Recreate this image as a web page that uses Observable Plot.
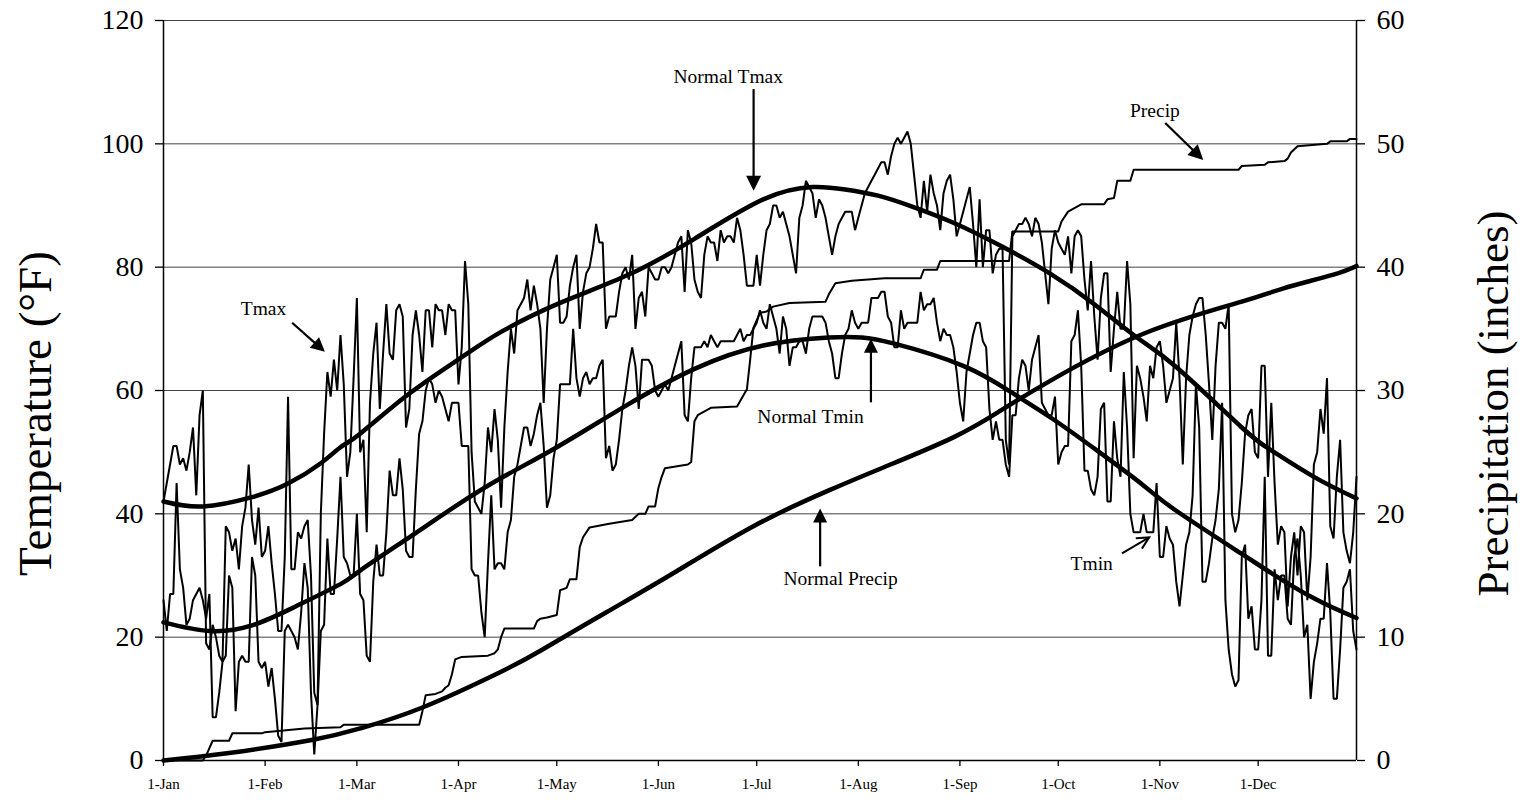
<!DOCTYPE html>
<html><head><meta charset="utf-8">
<script src="https://cdn.jsdelivr.net/npm/d3@7"></script>
<script src="https://cdn.jsdelivr.net/npm/@observablehq/plot@0.6"></script>
<style>html,body{margin:0;padding:0;background:#fff;overflow:hidden}</style>
</head><body><div id="chart"></div>
<script>
// ---------- data ----------
const monthStarts = [0,31,59,90,120,151,181,212,243,273,304,334];
const monthLabels = ["1-Jan","1-Feb","1-Mar","1-Apr","1-May","1-Jun","1-Jul","1-Aug","1-Sep","1-Oct","1-Nov","1-Dec"];
const tempTicks = [0,20,40,60,80,100,120];
const precipTicks = [0,10,20,30,40,50,60];

// daily maximum temperature (°F), 1-Jan .. 31-Dec
const tmax = [
42,45,48,51,51,48,49,47,50,54, 43,56,60,19,18,22,20,17,16,38,
37,34,36,31,38,41,48,39,35,41, 33,34,38,32,27,21,21,33,59,31,
31,37,36,38,39,30,11,9,40,53, 63,59,65,60,69,61,46,50,62,75,
50,52,37,58,66,71,57,66,74,66, 65,73,74,72,54,57,69,73,69,63,
73,73,67,74,73,73,69,74,73,73, 61,67,81,74,50,42,41,40,45,54,
50,57,52,41,54,63,70,66,73,74, 75,78,73,77,74,70,58,70,78,80,
82,71,71,72,77,80,82,70,76,79, 80,83,87,84,84,70,72,72,72,76,
79,80,78,82,70,75,76,72,80,79, 78,78,80,80,79,80,82,84,85,76,
86,84,78,76,75,82,85,84,84,81, 86,84,85,85,84,88,86,82,77,77,
77,82,77,82,86,87,90,90,88,89, 87,85,82,79,88,90,94,93,92,88,
91,90,88,85,82,85,87,88,89,89, 89,86,88,90,92,93,94,95,96,97,
97,95,98,100,101,100,101,102,100,95, 90,88,94,89,95,92,90,86,92,94,
95,91,85,87,89,91,93,87,80,91, 80,86,86,79,82,83,83,52,48,85,
86,87,87,88,87,85,88,87,84,79, 74,83,86,84,83,82,85,79,85,86,
85,78,73,81,72,65,75,79,79,63, 70,76,70,70,81,74,49,64,62,59,
55,64,62,67,68,64,58,60,62,71, 62,48,62,69,72,74,75,75,69,61,
52,64,71,71,70,74,40,37,39,45, 53,56,57,50,49,64,64,46,58,45,
35,38,37,25,33,37,30,38,37,26, 33,48,50,57,53,62,38,36,46,52,
37,34,32,37,46];

// daily minimum temperature (°F)
const tmin = [
26,21,27,27,45,31,28,22,23,26, 27,28,26,23,27,7,7,11,16,17,
30,28,8,16,17,16,16,33,30,16, 15,16,12,15,10,4,3,21,22,21,
20,18,24,32,28,11,1,9,21,22, 36,27,27,36,46,33,32,30,30,40,
27,26,17,16,29,35,30,30,37,47, 43,43,49,44,34,33,33,44,53,55,
60,62,61,58,60,59,57,55,58,58, 58,51,51,51,31,30,30,24,20,32,
43,31,32,32,31,37,39,46,48,51, 54,54,51,53,56,58,51,41,43,49,
52,61,61,61,61,70,62,59,62,63, 61,62,62,64,65,49,51,47,48,52,
57,60,64,67,64,57,65,65,65,64, 60,59,60,61,60,62,64,66,68,56,
55,62,67,67,67,68,67,69,68,67, 68,68,68,68,68,69,70,68,69,69,
70,71,73,71,70,74,72,70,66,72, 70,64,67,67,68,68,66,70,72,72,
72,72,71,68,66,62,62,66,69,70, 73,71,70,71,71,71,75,75,75,76,
76,72,71,67,67,73,70,71,71,71, 71,76,73,74,74,75,71,68,70,69,
69,67,63,58,55,63,66,69,71,71, 68,67,57,52,55,52,52,48,46,56,
56,62,65,64,60,65,67,69,58,57, 56,56,59,48,50,51,51,68,69,73,
64,47,47,44,43,46,57,58,42,42, 55,49,46,63,54,40,37,37,37,40,
37,37,37,45,33,33,38,36,35,29, 25,30,35,37,43,61,54,29,29,32,
36,39,44,58,26,18,14,12,13,33, 35,23,25,18,18,26,46,17,17,31,
26,30,30,23,22,33,36,30,20,22, 10,16,19,23,23,32,24,10,10,18,
28,29,31,21,18];

// normal max / min temperature, read at [day, °F]
const normalTmax = [[0,42],[12,41.2],[27,42.7],[38,44.9],[48,48.2],[54,50.8],[60,53],[75,59.5],[91,65.4],[103,69.5],[121,74.2],[142,78.8],[162,84.6],[183,91],[198,93],[208,92.6],[218,91.6],[228,89.9],[241,87.2],[256,83.3],[271,78.8],[284,74],[297,68.6],[309,63.8],[329,54],[338,50.3],[351,46],[364,42.5]];
const normalTmin = [[0,22.4],[14,21],[27,21.9],[40,24.9],[54,28.6],[60,30.8],[75,36.2],[89,41.2],[103,45.8],[120,50.8],[141,57.5],[162,63.5],[183,67.3],[203,68.6],[213,68.6],[223,67.6],[244,64],[259,59.6],[271,55.5],[285,50.2],[299,44.6],[309,40.5],[329,33.5],[338,30.4],[351,26.3],[364,23.1]];

// cumulative precipitation (inches), change points [day, inches]
const precip = [[0,0],[12,0],[13,0.4],[14,1.0],[15,1.6],[20,1.6],[21,2.2],[30,2.2],[31,2.3],[35,2.4],[43,2.6],[54,2.7],[55,2.9],[78,2.9],[79,4.0],[80,5.3],[83,5.4],[85,5.6],[86,5.9],[87,6.1],[88,7.0],[89,8.2],[91,8.4],[99,8.5],[101,8.7],[102,9.0],[103,10.0],[104,10.7],[113,10.7],[114,11.3],[115,11.5],[117,11.6],[120,11.8],[121,13.8],[123,14.0],[124,14.7],[126,14.7],[127,17.3],[128,18.1],[130,18.9],[136,19.2],[143,19.5],[145,20.0],[147,20.0],[148,20.6],[150,20.6],[151,22.1],[152,23.0],[153,23.7],[160,24.0],[161,24.2],[162,27.5],[163,28.0],[167,28.6],[175,28.7],[178,30.1],[179,32.5],[180,35.1],[182,36.3],[184,36.4],[186,36.8],[191,37.1],[202,37.2],[203,37.8],[205,38.7],[210,38.9],[220,39.1],[231,39.1],[232,39.8],[236,39.8],[237,40.5],[258,40.5],[259,42.9],[273,42.9],[274,43.7],[276,44.5],[280,45.1],[287,45.1],[288,45.5],[290,45.6],[291,47.0],[295,47.0],[296,47.9],[328,47.9],[329,48.2],[336,48.3],[337,48.5],[342,48.6],[343,48.8],[344,49.3],[346,49.8],[355,50.0],[356,50.2],[361,50.2],[362,50.4],[364,50.4]];

// normal cumulative precipitation (inches)
const normalPrecip = [[0,0],[20,0.6],[46,1.7],[60,2.6],[79,4.3],[103,7.2],[115,8.9],[135,12],[155,15.1],[180,19],[203,21.9],[220,23.8],[241,26.2],[255,28.3],[270,30.7],[299,34.6],[329,37.2],[342,38.3],[357,39.4],[364,40.1]];

// ---------- chart ----------
const P2T = 120 / 60; // right axis (inches) onto left axis (°F)
const days = tmax.map((_, i) => i);
const serif = "'Liberation Serif','Times New Roman',serif";

function arrows(specs) {
  return (index, scales) => {
    const g = d3.create("svg:g");
    for (const a of specs) {
      const x1 = scales.x(a.x1), y1 = scales.y(a.y1), x2 = scales.x(a.x2), y2 = scales.y(a.y2);
      const len = Math.hypot(x2 - x1, y2 - y1), ux = (x2 - x1) / len, uy = (y2 - y1) / len;
      const L = a.head, w = a.head / 2;
      const bx = x2 - ux * L, by = y2 - uy * L, nx = -uy, ny = ux;
      if (a.open) {
        g.append("line").attr("x1", x1).attr("y1", y1).attr("x2", x2).attr("y2", y2)
          .attr("stroke", "black").attr("stroke-width", 2);
        g.append("path").attr("d", `M${bx + nx * w},${by + ny * w}L${x2},${y2}L${bx - nx * w},${by - ny * w}`)
          .attr("fill", "none").attr("stroke", "black").attr("stroke-width", 2);
      } else {
        g.append("line").attr("x1", x1).attr("y1", y1).attr("x2", bx + ux * 2).attr("y2", by + uy * 2)
          .attr("stroke", "black").attr("stroke-width", 2.2);
        g.append("path").attr("d", `M${x2},${y2}L${bx + nx * w},${by + ny * w}L${bx - nx * w},${by - ny * w}Z`)
          .attr("fill", "black");
      }
    }
    return g.node();
  };
}

const chart = Plot.plot({
  width: 1531, height: 801,
  marginLeft: 163, marginRight: 175, marginTop: 20, marginBottom: 41,
  style: {fontFamily: serif, background: "white", color: "black", overflow: "visible"},
  x: {domain: [0, 364]},
  y: {domain: [0, 120]},
  marks: [
    Plot.ruleY(tempTicks.filter(t => t > 0), {stroke: "#444", strokeWidth: 1}),
    Plot.axisY(tempTicks, {anchor: "left", tickSize: 8, tickPadding: 12, fontSize: 28, label: null, strokeWidth: 1.3}),
    Plot.axisY(precipTicks.map(p => p * P2T), {anchor: "right", tickFormat: v => v / P2T, tickSize: 8, tickPadding: 12, fontSize: 28, label: null, strokeWidth: 1.3}),
    Plot.axisX(monthStarts, {tickFormat: d => monthLabels[monthStarts.indexOf(d)], tickSize: 6, tickPadding: 12, fontSize: 15, label: null, strokeWidth: 1.3}),
    Plot.ruleX([0, 364], {stroke: "black", strokeWidth: 1.5}),
    Plot.ruleY([0], {stroke: "black", strokeWidth: 1.5}),
    // normals
    Plot.line(normalPrecip, {x: d => d[0], y: d => d[1] * P2T, curve: "natural", stroke: "black", strokeWidth: 4.5}),
    Plot.line(normalTmax, {x: d => d[0], y: d => d[1], curve: "natural", stroke: "black", strokeWidth: 4.5}),
    Plot.line(normalTmin, {x: d => d[0], y: d => d[1], curve: "natural", stroke: "black", strokeWidth: 4.5}),
    // observed
    Plot.line(precip, {x: d => d[0], y: d => d[1] * P2T, stroke: "black", strokeWidth: 2}),
    Plot.line(days, {x: d => d, y: d => tmin[d], stroke: "black", strokeWidth: 2, strokeLinejoin: "miter"}),
    Plot.line(days, {x: d => d, y: d => tmax[d], stroke: "black", strokeWidth: 2, strokeLinejoin: "miter"}),
    // annotations
    Plot.text([
      {x: 172.3, y: 110.8, t: "Normal Tmax"},
      {x: 302.5, y: 105.3, t: "Precip"},
      {x: 30.5, y: 73.2, t: "Tmax"},
      {x: 197.4, y: 55.7, t: "Normal Tmin"},
      {x: 206.6, y: 29.5, t: "Normal Precip"},
      {x: 283.2, y: 31.9, t: "Tmin"}
    ], {x: "x", y: "y", text: "t", fontSize: 19.5, fill: "black"}),
    arrows([
      {x1: 180.2, y1: 108.8, x2: 180.2, y2: 92.3, head: 15},
      {x1: 305.8, y1: 103.3, x2: 317.4, y2: 97.3, head: 15},
      {x1: 39.4, y1: 70.9, x2: 49.4, y2: 66.2, head: 14},
      {x1: 216, y1: 58, x2: 216, y2: 68.3, head: 14},
      {x1: 200.5, y1: 31.4, x2: 200.5, y2: 40.8, head: 14},
      {x1: 292.6, y1: 33.5, x2: 300.9, y2: 36.1, head: 12, open: true}
    ]),
    // axis titles
    Plot.text(["Temperature (°F)"], {frameAnchor: "left", textAnchor: "middle", dx: -128, dy: 23, rotate: -90, fontSize: 47, fill: "black"}),
    Plot.text(["Precipitation (inches)"], {frameAnchor: "right", textAnchor: "middle", dx: 137, dy: 13, rotate: -90, fontSize: 45, fill: "black"})
  ]
});
document.getElementById("chart").append(chart);
</script>
</body></html>
